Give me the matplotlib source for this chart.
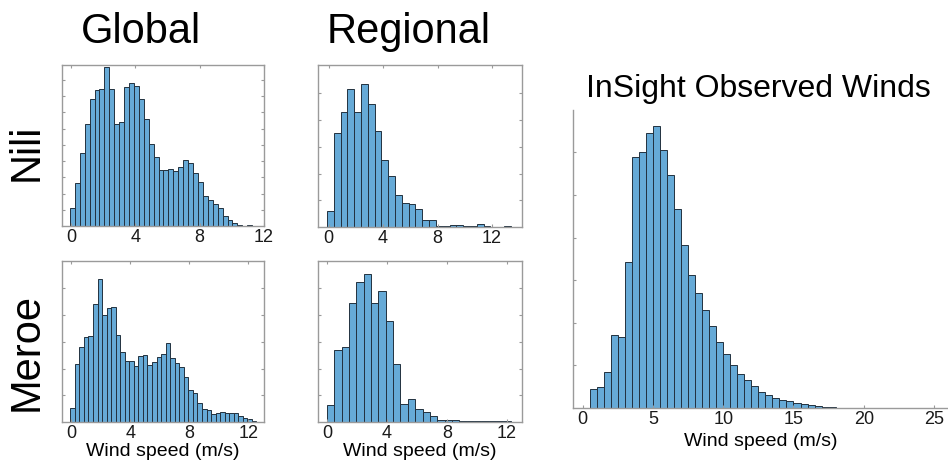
import numpy as np
import matplotlib.pyplot as plt

plt.rcParams['font.family'] = ['Liberation Sans', 'DejaVu Sans']

# bar heights (arbitrary count units)
global_nili = [54, 128, 219, 304, 380, 407, 409, 475, 409, 305, 311, 417, 427, 419,
               380, 321, 245, 207, 169, 167, 172, 165, 177, 199, 190, 160, 132, 89,
               79, 65, 54, 30, 19, 10, 3, 0, 3]
regional_nili = [47, 282, 344, 412, 343, 427, 367, 288, 200, 154, 95, 72, 69, 53,
                 20, 20, 2, 3, 6, 6, 3, 3, 8, 3, 0, 0, 2]
global_meroe = [43, 174, 225, 254, 258, 352, 428, 320, 340, 344, 260, 210, 182, 183,
                168, 198, 200, 170, 180, 195, 203, 235, 193, 178, 164, 134, 95, 88,
                58, 39, 37, 25, 28, 31, 26, 28, 28, 19, 11, 8, 3]
regional_meroe = [50, 217, 224, 356, 418, 443, 356, 393, 303, 173, 55, 70, 39, 30,
                  18, 7, 6, 7, 4, 4, 2, 4, 4, 2, 2]
insight = [58, 63, 109, 220, 214, 439, 754, 770, 825, 848, 776, 700, 598, 491, 398,
           345, 295, 245, 197, 162, 128, 102, 83, 65, 49, 40, 30, 25, 21, 16, 12, 9,
           7, 4, 2]

# bin start and width (m/s) for each panel
global_nili_bins = (-0.06, 0.306)
regional_nili_bins = (-0.12, 0.5)
global_meroe_bins = (-0.07, 0.308)
regional_meroe_bins = (0.0, 0.49)
insight_bins = (0.5, 0.5)

bar_color = '#66aad7'
edge_color = '#22313f'
axis_color = '#9a9a9a'


def hist(ax, heights, bins):
    start, width = bins
    left = start + width * np.arange(len(heights))
    ax.bar(left, heights, width, align='edge', color=bar_color,
           edgecolor=edge_color, linewidth=0.7)


def style(ax, xlim, ylim, xticks, yticks, box=True):
    ax.set_xlim(*xlim)
    ax.set_ylim(*ylim)
    ax.set_xticks(xticks)
    ax.set_yticks(yticks)
    ax.set_yticklabels([])
    for s in ax.spines.values():
        s.set_color(axis_color)
        s.set_linewidth(1.0)
    if not box:
        ax.spines['top'].set_visible(False)
        ax.spines['right'].set_visible(False)
    ax.tick_params(direction='in', length=2.5, width=0.8, color=axis_color,
                   labelsize=13, labelcolor='#1a1a1a', pad=2,
                   top=box, right=box)


fig = plt.figure(figsize=(9.48, 4.63), dpi=100)

ax1 = fig.add_axes([0.0654, 0.5119, 0.2131, 0.3477])
ax2 = fig.add_axes([0.3354, 0.5097, 0.2152, 0.3499])
ax3 = fig.add_axes([0.0654, 0.0886, 0.2131, 0.3477])
ax4 = fig.add_axes([0.3354, 0.0886, 0.2152, 0.3477])
ax5 = fig.add_axes([0.6044, 0.1188, 0.3956, 0.6436])

hist(ax1, global_nili, global_nili_bins)
style(ax1, (-0.55, 12), (0, 482), [0, 4, 8, 12], np.arange(1, 10) * 48.6)

hist(ax2, regional_nili, regional_nili_bins)
style(ax2, (-0.78, 14.2), (0, 485), [0, 4, 8, 12], np.arange(1, 6) * 80)

hist(ax3, global_meroe, global_meroe_bins)
style(ax3, (-0.63, 13.07), (0, 482), [0, 4, 8, 12], np.arange(1, 6) * 80)
ax3.set_xlabel('Wind speed (m/s)', fontsize=14, labelpad=1)

hist(ax4, regional_meroe, regional_meroe_bins)
style(ax4, (-0.6, 13.0), (0, 482), [0, 4, 8, 12], np.arange(1, 6) * 80)
ax4.set_xlabel('Wind speed (m/s)', fontsize=14, labelpad=1)

hist(ax5, insight, insight_bins)
style(ax5, (-0.7, 26.0), (0, 895), [0, 5, 10, 15, 20, 25], np.arange(1, 7) * 128,
      box=False)
ax5.set_xlabel('Wind speed (m/s)', fontsize=14, labelpad=4)

fig.text(141 / 948, 1 - 43 / 463, 'Global', fontsize=30, ha='center', va='baseline')
fig.text(409 / 948, 1 - 43 / 463, 'Regional', fontsize=30, ha='center', va='baseline')
fig.text(758 / 948, 1 - 97 / 463, 'InSight Observed Winds', fontsize=23,
         ha='center', va='baseline')
fig.text(27 / 948, 1 - 152 / 463, 'Nili', fontsize=30, rotation=90,
         ha='center', va='center')
fig.text(27 / 948, 1 - 352 / 463, 'Meroe', fontsize=30, rotation=90,
         ha='center', va='center')

fig.savefig('out.png', dpi=100)
